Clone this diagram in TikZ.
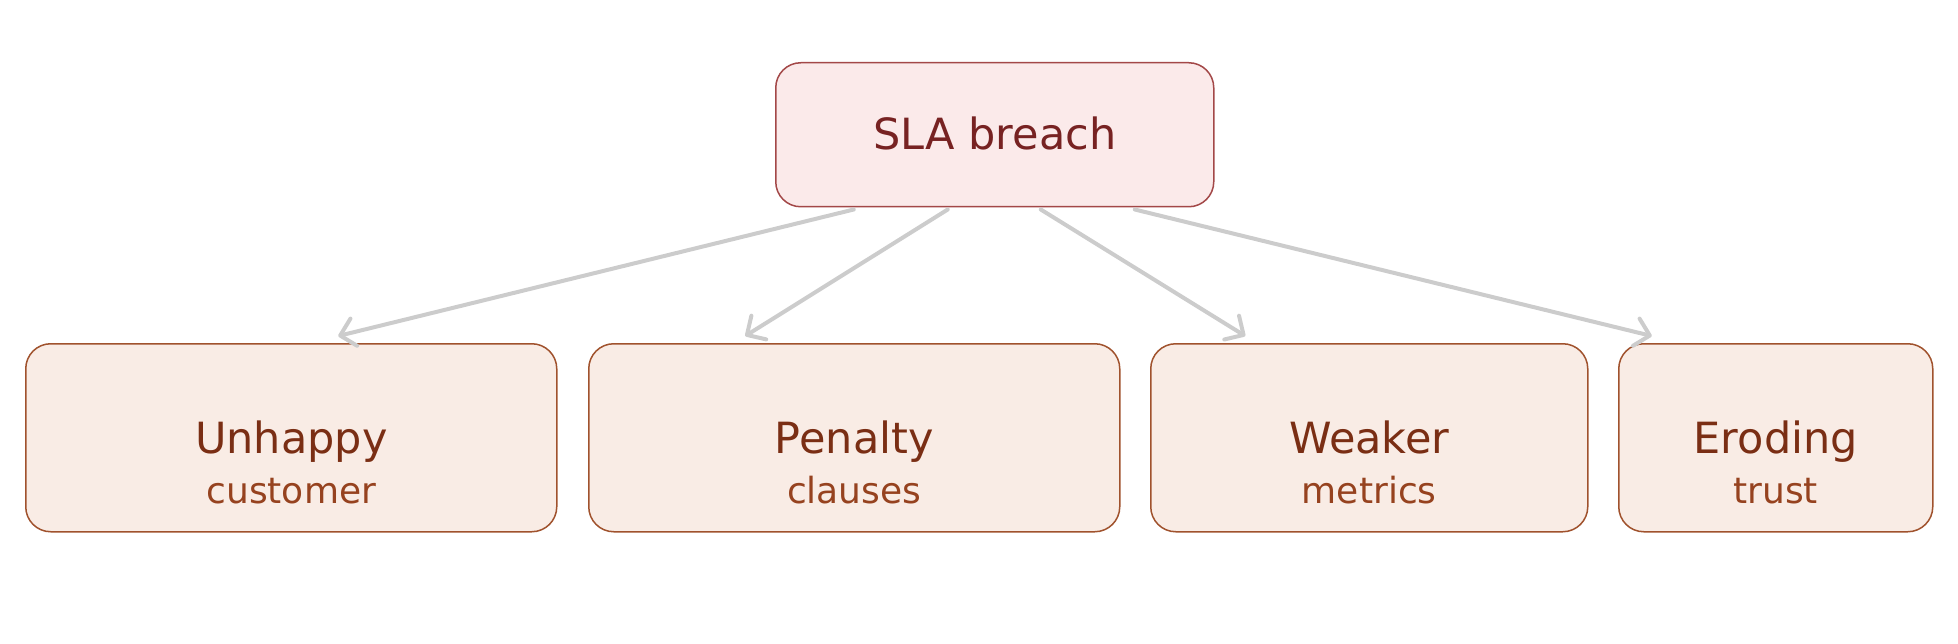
\documentclass[tikz,border=0pt]{standalone}
\usepackage{fontspec}
\setmainfont{DejaVu Sans}
\usetikzlibrary{arrows.meta,calc}
\definecolor{topfill}{HTML}{FBEAEA}
\definecolor{topdraw}{HTML}{A34848}
\definecolor{topText}{HTML}{772222}
\definecolor{botfill}{HTML}{F9ECE5}
\definecolor{botdraw}{HTML}{A0522D}
\definecolor{titleText}{HTML}{7A2E14}
\definecolor{subText}{HTML}{96421F}
\definecolor{arrowgray}{HTML}{CCCCCC}
\tikzset{
  topbox/.style={draw=topdraw, fill=topfill, line width=1.5pt, rounded corners=25pt, inner sep=0pt, anchor=north west},
  botbox/.style={draw=botdraw, fill=botfill, line width=1.5pt, rounded corners=25pt, inner sep=0pt, anchor=north west, minimum height=188pt},
  titletext/.style={anchor=base, inner sep=0pt, text=titleText, font=\fontsize{43}{50}\selectfont},
  subtext/.style={anchor=base, inner sep=0pt, text=subText, font=\fontsize{36}{42}\selectfont},
  conn/.style={draw=arrowgray, line width=4pt, line cap=round, -{Straight Barb[length=14pt,width=28pt,line width=4pt,round]}}
}
\begin{document}
\begin{tikzpicture}[x=1pt,y=-1pt]
\useasboundingbox (0,0) rectangle (1958,644);
\node[topbox, minimum width=438pt, minimum height=144pt] (top) at (775,62) {};
\node[anchor=base, inner sep=0pt, text=topText, font=\fontsize{43}{50}\selectfont] (toptext) at ($(top.north)+(0,88)$) {SLA breach};

\node[botbox, minimum width=531pt] (b1) at (25,343) {};
\node[botbox, minimum width=531pt] (b2) at (588,343) {};
\node[botbox, minimum width=437pt] (b3) at (1150,343) {};
\node[botbox, minimum width=314pt] (b4) at (1618,343) {};

\node[titletext] (t1) at ($(b1.north)+(0,110)$) {Unhappy};
\node[subtext] (s1) at ($(b1.north)+(0,160)$) {customer};
\node[titletext] (t2) at ($(b2.north)+(0,110)$) {Penalty};
\node[subtext] (s2) at ($(b2.north)+(0,160)$) {clauses};
\node[titletext] (t3) at ($(b3.north)+(0,110)$) {Weaker};
\node[subtext] (s3) at ($(b3.north)+(0,160)$) {metrics};
\node[titletext] (t4) at ($(b4.north)+(0,110)$) {Eroding};
\node[subtext] (s4) at ($(b4.north)+(0,160)$) {trust};

\draw[conn] ($(top.south)+(-141,2)$) -- ($(b1.north)+(47,-7)$);
\draw[conn] ($(top.south)+(-47,2)$) -- ($(b2.north)+(-109,-7)$);
\draw[conn] ($(top.south)+(46,2)$) -- ($(b3.north)+(-124,-7)$);
\draw[conn] ($(top.south)+(140,2)$) -- ($(b4.north)+(-124,-7)$);
\end{tikzpicture}
\end{document}
